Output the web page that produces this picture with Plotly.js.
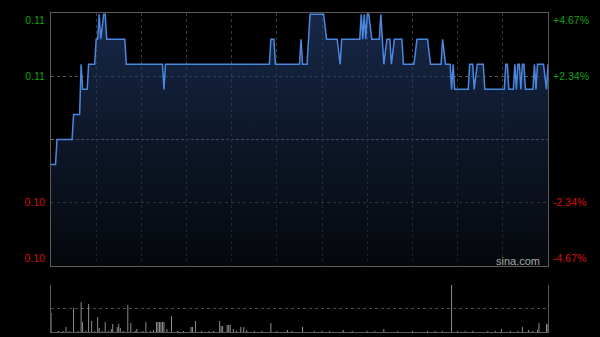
<!DOCTYPE html>
<html>
<head>
<meta charset="utf-8">
<script src="https://cdn.plot.ly/plotly-3.0.1.min.js"></script>
<style>
html,body{margin:0;padding:0;background:#000;}
#chart{width:600px;height:337px;}
</style>
</head>
<body>
<div id="chart"></div>
<script>
// ---- data ----
const prevClose = 0.107;
const pctSteps = [0.0467, 0.0234, -0.0234, -0.0467];
const leftTickText = ['0.11', '0.11', '0.10', '0.10'];
const rightTickText = ['+4.67%', '+2.34%', '-2.34%', '-4.67%'];

// price vertices (minutes since 09:30, trading minutes; 330 = 16:00)
const priceMinute = [0,3,4,14,15,19,20,21,24,25,29,30,31,32,33,35,36,37,49,50,74,75,76,145,146,148,149,165,166,167,170,172,181,183,190,192,193,205,206,207,208,209,210,211,213,218,219,221,223,225,226,228,233,234,241,243,250,252,259,260,262,265,266,267,268,277,278,280,281,283,287,288,301,302,303,304,307,308,309,310,311,312,313,314,315,320,321,322,323,327,329,330];
const priceValue  = [0.106,0.106,0.107,0.107,0.108,0.108,0.110,0.109,0.109,0.110,0.110,0.111,0.111,0.112,0.111,0.112,0.112,0.111,0.111,0.110,0.110,0.109,0.110,0.110,0.111,0.111,0.110,0.110,0.111,0.110,0.110,0.112,0.112,0.111,0.111,0.110,0.111,0.111,0.112,0.111,0.112,0.111,0.112,0.112,0.111,0.111,0.112,0.110,0.111,0.111,0.110,0.111,0.111,0.110,0.110,0.111,0.111,0.110,0.110,0.111,0.110,0.110,0.109,0.110,0.109,0.109,0.110,0.110,0.109,0.110,0.110,0.109,0.109,0.110,0.110,0.109,0.109,0.110,0.109,0.110,0.110,0.109,0.110,0.110,0.109,0.109,0.110,0.109,0.110,0.110,0.109,0.110];

// volume bars (minute, volume in 10k shares)
const volMinute = [0,5,8,10,12,15,18,20,21,23,25,27,29,31,32,34,36,38,40,41,44,45,46,48,51,53,56,57,61,63,66,68,70,71,72,73,74,75,77,80,84,88,93,94,96,100,105,108,112,113,114,117,118,119,121,123,126,128,130,135,140,146,150,157,160,167,175,180,185,194,200,210,215,221,230,240,250,255,260,266,270,275,280,290,295,299,305,310,313,317,320,323,324,329,330];
const volValue  = [190,10,10,50,10,240,10,300,100,10,280,110,10,150,40,10,100,10,30,80,50,80,40,10,270,90,10,30,10,100,10,20,100,100,100,100,100,100,30,160,10,10,50,50,110,10,10,10,110,60,60,70,70,70,30,10,50,50,20,10,10,90,10,20,10,50,10,10,10,20,10,10,10,30,10,10,10,10,10,470,10,10,10,10,10,30,10,10,50,20,10,20,90,80,80];

// ---- derived ----
const tickVals = pctSteps.map(p => prevClose * (1 + p));
const yTop = prevClose * (1 + pctSteps[0]);
const yBot = prevClose * (1 + pctSteps[3]);
const pad = 0.00005;
const yRange = [yBot - pad, yTop + pad];
// labels at the extremes sit slightly inside the frame, as in the reference
const labelVals = tickVals.slice();
labelVals[0] = yTop - 0.00025;
labelVals[3] = yBot + 0.00025;
const green = '#13a313', red = '#d41111';
const colorFor = p => p > 0 ? green : red;
const leftText = leftTickText.map((t, i) => '<span style="color:' + colorFor(pctSteps[i]) + '">' + t + '</span>');
const rightText = rightTickText.map((t, i) => '<span style="color:' + colorFor(pctSteps[i]) + '">' + t + '</span>');
const volMax = Math.max.apply(null, volValue);

const baseFont = {family: 'Liberation Sans, Arial, sans-serif', size: 10.5, color: '#aaa'};

const traces = [
  {
    x: priceMinute, y: priceValue, type: 'scatter', mode: 'lines',
    xaxis: 'x', yaxis: 'y',
    line: {color: '#4a88e0', width: 1.5},
    fill: 'tozeroy',
    fillgradient: {type: 'vertical', start: yBot, stop: yTop,
      colorscale: [[0, 'rgba(10,14,22,0.55)'], [1, 'rgba(38,66,120,0.6)']]},
    hoverinfo: 'skip'
  },
  {
    x: [0, 330], y: [prevClose, prevClose], type: 'scatter', mode: 'lines',
    xaxis: 'x', yaxis: 'y2', line: {color: 'rgba(0,0,0,0)', width: 0}, hoverinfo: 'skip', showlegend: false
  },
  {
    x: [0, 330], y: [prevClose, prevClose], type: 'scatter', mode: 'lines',
    xaxis: 'x', yaxis: 'y3', line: {color: 'rgba(0,0,0,0)', width: 0}, hoverinfo: 'skip', showlegend: false
  },
  {
    x: volMinute, y: volValue, type: 'bar', xaxis: 'x2', yaxis: 'y4',
    width: 0.6, marker: {color: '#9c9c9c', line: {width: 0}}, hoverinfo: 'skip'
  }
];

const mainDomain = [(332 - 266) / 319, 1];
const volDomain = [0, (332 - 285) / 319];

const layout = {
  width: 600, height: 337,
  paper_bgcolor: '#000', plot_bgcolor: '#000',
  margin: {l: 51, r: 52, t: 13, b: 5},
  showlegend: false,
  font: baseFont,
  xaxis: {
    domain: [0, 1], range: [0, 330], anchor: 'y',
    tickvals: [30,60,90,120,150,180,210,240,270,300],
    showticklabels: false, ticks: '',
    showgrid: true, gridcolor: '#3a3a3a', griddash: 'dot', gridwidth: 1,
    showline: true, linecolor: '#5a5a5a', linewidth: 1, mirror: true,
    zeroline: false, fixedrange: true
  },
  yaxis: {
    domain: mainDomain, range: yRange, anchor: 'x',
    tickvals: [tickVals[1], tickVals[2]], showticklabels: false, ticks: '',
    showgrid: true, gridcolor: '#555', griddash: 'dot', gridwidth: 1,
    showline: true, linecolor: '#5a5a5a', linewidth: 1, mirror: true,
    zeroline: false, fixedrange: true
  },
  yaxis2: {
    overlaying: 'y', side: 'left', range: yRange, anchor: 'x',
    tickvals: labelVals, ticktext: leftText, showgrid: false, zeroline: false,
    ticks: 'outside', ticklen: 3, tickcolor: 'rgba(0,0,0,0)', showline: false,
    tickfont: baseFont, fixedrange: true
  },
  yaxis3: {
    overlaying: 'y', side: 'right', range: yRange, anchor: 'x',
    tickvals: labelVals, ticktext: rightText, showgrid: false, zeroline: false,
    ticks: 'outside', ticklen: 2, tickcolor: 'rgba(0,0,0,0)', showline: false,
    tickfont: baseFont, fixedrange: true
  },
  xaxis2: {
    domain: [0, 1], range: [0, 330], anchor: 'y4',
    showticklabels: false, ticks: '', showgrid: false,
    showline: true, linecolor: '#5a5a5a', linewidth: 1, zeroline: false, fixedrange: true
  },
  yaxis4: {
    domain: volDomain, range: [0, volMax], anchor: 'x2',
    tickvals: [volMax / 2, volMax], showticklabels: false, ticks: '',
    showgrid: true, gridcolor: '#4a4a4a', griddash: 'dot', gridwidth: 1,
    showline: true, linecolor: '#5a5a5a', linewidth: 1, mirror: true,
    zeroline: false, fixedrange: true
  },
  shapes: [
    {type: 'line', xref: 'x', yref: 'y', x0: 0, x1: 330, y0: prevClose, y1: prevClose,
     line: {color: '#6f7885', width: 1, dash: '3px,2px'}, layer: 'below'}
  ],
  annotations: [
    {text: 'sina.com', xref: 'paper', yref: 'paper', x: (518 - 51) / 497, y: (332 - 261) / 319,
     xanchor: 'center', yanchor: 'middle', showarrow: false,
     font: {family: 'Liberation Sans, Arial, sans-serif', size: 11, color: '#a8a8a8'}}
  ]
};

Plotly.newPlot('chart', traces, layout, {staticPlot: true, displayModeBar: false});
</script>
</body>
</html>
